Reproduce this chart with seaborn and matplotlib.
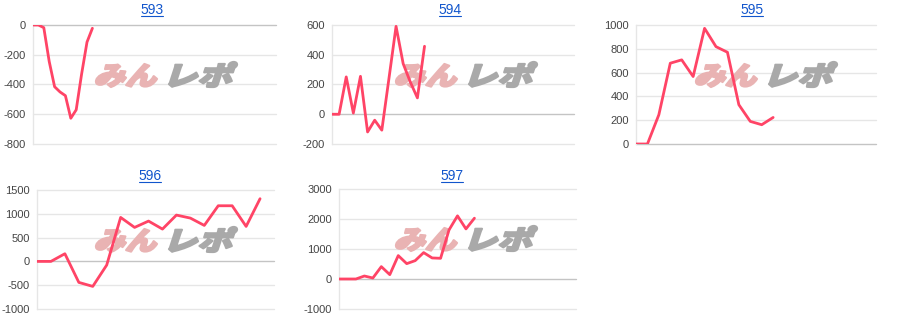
import matplotlib
matplotlib.use("Agg")
import matplotlib.pyplot as plt
import seaborn as sns
import pandas as pd
from matplotlib.textpath import TextPath
from matplotlib.font_manager import FontProperties
from matplotlib.patches import PathPatch
from matplotlib.transforms import Affine2D, IdentityTransform
from matplotlib.lines import Line2D

# ---- data ----
titles = ["593", "594", "595", "596", "597"]
v593 = [0, 0, -18, -245, -415, -450, -475, -627, -570, -330, -115, -22]
v594 = [0, 0, 251, 8, 255, -119, -40, -107, 240, 591, 340, 217, 110, 457]
v595 = [0, 0, 246, 679, 707, 567, 972, 818, 771, 330, 190, 162, 223]
v596 = [0, 0, 161, -441, -525, -77, 924, 714, 847, 679, 973, 910, 756,
        1169, 1169, 735, 1317]
v597 = [0, 0, 0, 100, 33, 412, 145, 780, 512, 612, 880, 702, 690,
        1637, 2105, 1670, 2027]
series = [v593, v594, v595, v596, v597]
yticks = [
    [-800, -600, -400, -200, 0],
    [-200, 0, 200, 400, 600],
    [0, 200, 400, 600, 800, 1000],
    [-1000, -500, 0, 500, 1000, 1500],
    [-1000, 0, 1000, 2000, 3000],
]
slots = [45, 34, 21, 17, 28]

# ---- layout (pixels: left, top, right, bottom) ----
W, H = 900, 330
boxes = [(33, 25, 276, 144), (332, 25, 574, 144), (636, 25, 876, 144),
         (37, 190, 274, 309), (339, 189, 576, 309)]
cells = [(0, 0), (300, 0), (600, 0), (0, 160), (300, 160)]
title_x = [152, 450, 752, 150, 452]
title_base = [13.5, 13.5, 13.5, 179.5, 179.5]

sns.set_theme(style="white")
plt.rcParams['font.family'] = ['Liberation Sans', 'DejaVu Sans']

fig = plt.figure(figsize=(9, 3.3), dpi=100)
fig.patch.set_facecolor("white")

LINE = "#ff4466"
GRID = "#e6e6e6"
fp_jp = FontProperties(family="Noto Sans CJK JP", weight="black")


def add_mark(ax, text, box, color):
    p = TextPath((0, 0), text, size=1, prop=fp_jp)
    p = Affine2D().skew_deg(14, 0).transform_path(p)
    ext = p.get_extents()
    sx = (box[2] - box[0]) / ext.width
    sy = (box[3] - box[1]) / ext.height
    tr = (Affine2D().translate(-ext.x0, -ext.y0).scale(sx, sy)
          .translate(box[0], H - box[3]))
    ax.add_patch(PathPatch(tr.transform_path(p), transform=IdentityTransform(),
                           facecolor=color, edgecolor=color, linewidth=1.6,
                           joinstyle="round", clip_on=False, zorder=1))


for i, vals in enumerate(series):
    l, t, r, b = boxes[i]
    ax = fig.add_axes([l / W, 1 - b / H, (r - l) / W, (b - t) / H])
    df = pd.DataFrame({"x": range(len(vals)), "y": vals})
    sns.lineplot(data=df, x="x", y="y", ax=ax, color=LINE, linewidth=2.0,
                 zorder=3)
    ax.set_xlim(0, slots[i])
    tk = yticks[i]
    ax.set_ylim(tk[0], tk[-1])
    ax.set_yticks(tk)
    ax.set_yticklabels([str(v) for v in tk])
    ax.set_xticks([])
    ax.set_xlabel("")
    ax.set_ylabel("")
    ax.set_facecolor("white")
    for y in tk:
        ax.axhline(y, color=("#c4c4c4" if y == 0 else GRID), lw=1.0,
                   zorder=0.5, clip_on=False)
    for s in ["top", "right", "bottom"]:
        ax.spines[s].set_visible(False)
    ax.spines["left"].set_color(GRID)
    ax.spines["left"].set_linewidth(1.0)
    ax.tick_params(axis="y", length=0, pad=5, labelsize=8, labelcolor="#444444")

    cx, cy = cells[i]
    top = t
    add_mark(ax, "みん", (cx + 96, top + 39, cx + 157, top + 62), "#e9b3b3")
    add_mark(ax, "レポ", (cx + 169, top + 37, cx + 237, top + 62), "#a9a9a9")

    # title with underline
    fig.text(title_x[i] / W, 1 - title_base[i] / H, titles[i], ha="center",
             va="baseline", fontsize=10, color="#1155cc")
    fig.add_artist(Line2D([title_x[i] - 11, title_x[i] + 11],
                          [H - title_base[i] - 2, H - title_base[i] - 2],
                          transform=IdentityTransform(), color="#1155cc",
                          lw=0.8))

fig.savefig("out.png", dpi=100, facecolor="white")
